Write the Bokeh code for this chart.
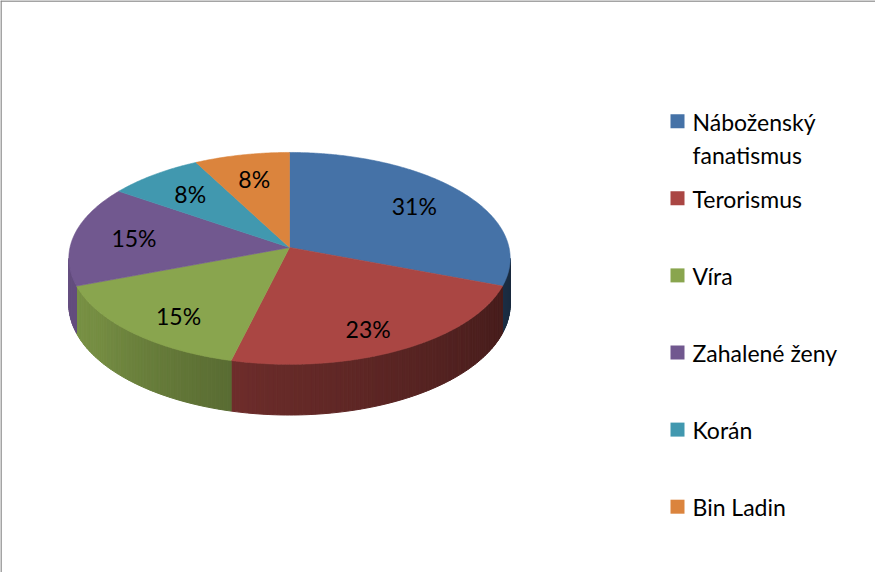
import numpy as np
from bokeh.plotting import figure
from bokeh.models import Range1d, ColumnDataSource
from bokeh.embed import file_html
from bokeh.resources import INLINE
from bokeh.core.properties import value

# ---- data ----
categories = ["Náboženský fanatismus", "Terorismus", "Víra", "Zahalené ženy", "Korán", "Bin Ladin"]
legend_labels = ["Náboženský\nfanatismus", "Terorismus", "Víra", "Zahalené ženy", "Korán", "Bin Ladin"]
counts = [4, 3, 2, 2, 1, 1]
colors = ["#4572A7", "#AA4643", "#89A54E", "#71588F", "#4198AF", "#DB843D"]

# ---- layout / projection parameters ----
W, H = 875, 572
CX, CY = 289.0, 247.0        # pie apex (px)
K, M, A = 219.5, 104.8, 0.1028  # perspective ellipse params
H0 = 45.5                    # pie thickness

p = figure(width=W, height=H, output_backend="svg", toolbar_location=None,
           x_range=Range1d(0, W), y_range=Range1d(H, 0),
           x_axis_type=None, y_axis_type=None, min_border=0)
p.grid.visible = False
p.outline_line_color = None
p.background_fill_color = "white"
p.border_fill_color = "white"

# chart area border (left & top visible)
p.line([0.5, 0.5], [0, H], line_color="#868686", line_width=1.5)
p.line([0, W], [0.5, 0.5], line_color="#868686", line_width=1.5)


def rim(theta_deg, rho=1.0):
    t = np.radians(theta_deg)
    s = rho * np.sin(t)
    c = rho * np.cos(t)
    d = 1 + A * c
    return CX + K * s / d, CY - M * c / d, d


def hex2rgb(h):
    h = h.lstrip("#")
    return np.array([int(h[i:i + 2], 16) for i in (0, 2, 4)], dtype=float)


def shade(hexc, f):
    r = np.clip(hex2rgb(hexc) * f, 0, 255).astype(int)
    return "#%02x%02x%02x" % tuple(r)


def side_factor(theta):
    return float(np.interp(theta, [95, 100, 187, 236, 265], [0.37, 0.38, 0.62, 0.86, 0.9]))


vals = np.array(counts, dtype=float)
frac = vals / vals.sum()
ends = np.cumsum(frac) * 360.0
starts = np.concatenate([[0.0], ends[:-1]])

# ---- side walls ----
vis0 = np.degrees(np.arccos(-A))
vis1 = 360.0 - vis0
sx, sy, sc = [], [], []
for i in range(len(counts)):
    lo, hi = max(starts[i], vis0), min(ends[i], vis1)
    if lo >= hi:
        continue
    n = max(1, int(np.ceil((hi - lo) / 1.0)))
    ts = np.linspace(lo, hi, n + 1)
    for j in range(n):
        t0, t1 = ts[j], ts[j + 1]
        x0, y0, d0 = rim(t0)
        x1, y1, d1 = rim(t1)
        sx.append([x0, x1, x1, x0])
        sy.append([y0, y1, y1 + H0 / d1, y0 + H0 / d0])
        sc.append(shade(colors[i], side_factor(0.5 * (t0 + t1))))
p.patches(xs="xs", ys="ys", fill_color="c", line_color="c", line_width=1,
          source=ColumnDataSource(dict(xs=sx, ys=sy, c=sc)))

# ---- top faces ----
tx, ty = [], []
for i in range(len(counts)):
    n = max(2, int(np.ceil((ends[i] - starts[i]) / 0.5)))
    ts = np.linspace(starts[i], ends[i], n + 1)
    xs, ys, _ = rim(ts)
    tx.append([CX] + list(xs))
    ty.append([CY] + list(ys))
p.patches(xs="xs", ys="ys", fill_color="c", line_color="c", line_width=0.6,
          source=ColumnDataSource(dict(xs=tx, ys=ty, c=colors)))

# ---- data labels ----
mids = 0.5 * (starts + ends)
lx, ly, _ = rim(mids, 0.72)
ly = ly + H0 * 0.25 * np.maximum(0, -np.cos(np.radians(mids)))
pct = ["%d%%" % round(f * 100) for f in frac]
p.text(x=lx, y=ly, text=pct, text_align="center", text_baseline="middle",
       text_font=value("Lato"), text_font_size="23px", text_color="#000000")

# ---- legend ----
LX, LY0, LDY = 677, 120.7, 77.1
ly_leg = [LY0 + i * LDY for i in range(len(categories))]
p.rect(x=[LX] * len(categories), y=ly_leg, width=14, height=14,
       fill_color=colors, line_color=None)
p.text(x=[LX + 15] * len(categories), y=[v - 13.5 for v in ly_leg], text=legend_labels,
       text_align="left", text_baseline="top", text_line_height=1.18,
       text_font=value("Lato"), text_font_size="23px", text_color="#000000")

open("out.html", "w").write(file_html(p, INLINE))
